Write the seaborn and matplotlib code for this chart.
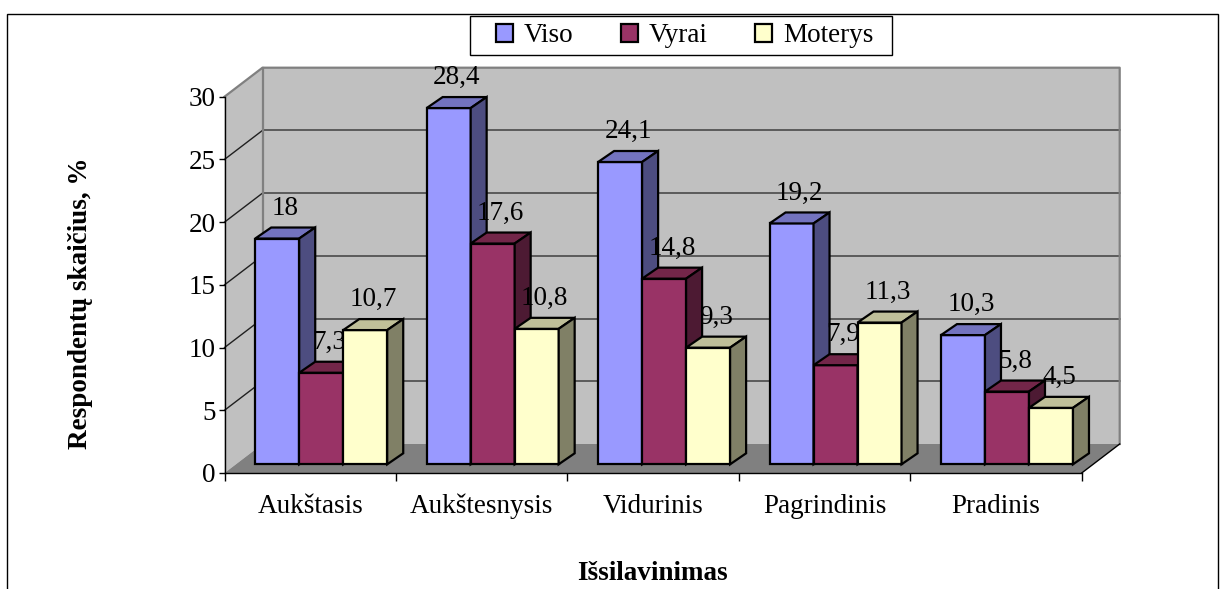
import matplotlib
matplotlib.use("Agg")
import matplotlib.pyplot as plt
import matplotlib.transforms as mtrans
from matplotlib.patches import Patch, Polygon, Rectangle
import pandas as pd
import seaborn as sns

categories = ["Aukštasis", "Aukštesnysis", "Vidurinis", "Pagrindinis", "Pradinis"]
viso = [18, 28.4, 24.1, 19.2, 10.3]
vyrai = [7.3, 17.6, 14.8, 7.9, 5.8]
moterys = [10.7, 10.8, 9.3, 11.3, 4.5]
viso_lbl = ["18", "28,4", "24,1", "19,2", "10,3"]
vyrai_lbl = ["7,3", "17,6", "14,8", "7,9", "5,8"]
moterys_lbl = ["10,7", "10,8", "9,3", "11,3", "4,5"]
series_names = ["Viso", "Vyrai", "Moterys"]
front_cols = ["#9999FF", "#993366", "#FFFFCC"]
top_cols = ["#7373BF", "#732649", "#BFBF99"]
side_cols = ["#4D4D80", "#4D1A33", "#808066"]

W, H = 1222, 589
plt.rcParams["font.family"] = ["Liberation Serif", "DejaVu Serif"]
FS = 19.5

df = pd.DataFrame({
    "cat": categories * 3,
    "val": viso + vyrai + moterys,
    "series": sum([[n] * 5 for n in series_names], []),
})
labels = [viso_lbl, vyrai_lbl, moterys_lbl]

fig = plt.figure(figsize=(W / 100, H / 100), dpi=100)
L, R, T, B = 224.5, 1081.7, 96.7, 473.0
ax = fig.add_axes([L / W, 1 - B / H, (R - L) / W, (B - T) / H])
sns.barplot(data=df, x="cat", y="val", hue="series", palette=front_cols,
            hue_order=series_names, order=categories, width=0.77, gap=0,
            saturation=1, edgecolor="black", linewidth=1.6, legend=False,
            err_kws={"linewidth": 0}, ax=ax)
ax.set_xlim(-0.5, 4.5)
ax.set_ylim(0, 30)
ax.patch.set_visible(False)

pxx = (R - L) / 5          # pixels per category
pxy = (B - T) / 30         # pixels per value unit
wall_dx, wall_dy = 38 / pxx, 29 / pxy
bar_dx, bar_dy = 16 / pxx, 11 / pxy
tr = mtrans.offset_copy(ax.transData, fig=fig, x=11, y=8.7, units="dots")

# walls and floor
x0, x1 = -0.5, 4.5
ax.add_patch(Polygon([(x0 + wall_dx, wall_dy), (x1 + wall_dx, wall_dy),
                      (x1 + wall_dx, 30 + wall_dy), (x0 + wall_dx, 30 + wall_dy)],
                     fc="#C0C0C0", ec="none", zorder=0.5, clip_on=False))
ax.add_patch(Polygon([(x0, 0), (x0 + wall_dx, wall_dy),
                      (x0 + wall_dx, 30 + wall_dy), (x0, 30)],
                     fc="#C0C0C0", ec="none", zorder=0.5, clip_on=False))
ax.add_patch(Polygon([(x0, 0), (x1, 0), (x1 + wall_dx, wall_dy), (x0 + wall_dx, wall_dy)],
                     fc="#808080", ec="none", zorder=0.6, clip_on=False))
for v in [5, 10, 15, 20, 25]:
    ax.plot([x0, x0 + wall_dx], [v, v + wall_dy], color="#202020", lw=1, zorder=1, clip_on=False)
    ax.plot([x0 + wall_dx, x1 + wall_dx], [v + wall_dy] * 2, color="#404040", lw=1.1, zorder=1, clip_on=False)
ax.plot([x0, x0 + wall_dx, x1 + wall_dx, x1 + wall_dx],
        [30, 30 + wall_dy, 30 + wall_dy, wall_dy], color="#808080", lw=1.6, zorder=1.2, clip_on=False)
ax.plot([x0 + wall_dx, x0 + wall_dx], [wall_dy, 30 + wall_dy], color="#808080", lw=1.6, zorder=1.2, clip_on=False)
ax.plot([x1, x1 + wall_dx], [0, wall_dy], color="black", lw=1, zorder=1.3, clip_on=False)

# bars with depth
for s, cont in enumerate(ax.containers):
    z = 3 + 2 * s
    for i, p in enumerate(cont.patches):
        xa, w, h = p.get_x(), p.get_width(), p.get_height()
        xb = xa + w
        p.set_transform(tr)
        p.set_zorder(z)
        p.set_clip_on(False)
        p.set_joinstyle("miter")
        ax.add_patch(Polygon([(xa, h), (xb, h), (xb + bar_dx, h + bar_dy), (xa + bar_dx, h + bar_dy)],
                             fc=top_cols[s], ec="black", lw=1.6, transform=tr, zorder=z, clip_on=False))
        ax.add_patch(Polygon([(xb, 0), (xb + bar_dx, bar_dy), (xb + bar_dx, h + bar_dy), (xb, h)],
                             fc=side_cols[s], ec="black", lw=1.6, transform=tr, zorder=z, clip_on=False))
        ax.annotate(labels[s][i], xy=(xa + w / 2 + bar_dx / 2, h + bar_dy), xycoords=tr,
                    xytext=(0, 5), textcoords="offset points", ha="center", va="bottom",
                    fontsize=FS, color="black", zorder=z + 1, annotation_clip=False)

# axes
for sp in ["top", "right"]:
    ax.spines[sp].set_visible(False)
for sp in ["left", "bottom"]:
    ax.spines[sp].set_linewidth(1)
    ax.spines[sp].set_zorder(2)
ax.set_yticks([0, 5, 10, 15, 20, 25, 30])
ax.tick_params(axis="y", length=4.5, width=1, pad=2, labelsize=FS)
ax.set_xticks([-0.5, 0.5, 1.5, 2.5, 3.5, 4.5], [""] * 6)
ax.tick_params(axis="x", which="major", length=5.5, width=1)
ax.set_xticks(range(5), categories, minor=True)
ax.tick_params(axis="x", which="minor", length=0, pad=15, labelsize=FS)
ax.set_xlabel("")
ax.set_ylabel("")

fig.text(81 / W, 1 - 303 / H, "Respondentų skaičius, %", rotation=90, ha="center", va="center",
         fontsize=FS, fontweight="bold")
fig.text(652 / W, 1 - 573 / H, "Išsilavinimas", ha="center", va="center",
         fontsize=FS, fontweight="bold")

# outer frame and legend frame
fig.add_artist(Rectangle((6.5 / W, -0.05), (1217.5 - 6.5) / W, 1.05 - 13.5 / H, transform=fig.transFigure,
                         fc="none", ec="black", lw=1, zorder=-1))
fig.add_artist(Rectangle((469.5 / W, 1 - 55 / H), (891.5 - 469.5) / W, 39 / H, transform=fig.transFigure,
                         fc="white", ec="black", lw=1, zorder=0))
handles = [Patch(fc=c, ec="black", lw=1.6, label=n) for c, n in zip(front_cols, series_names)]
leg = fig.legend(handles=handles, loc="center", bbox_to_anchor=(684.5 / W, 1 - 36 / H), ncols=3, frameon=False,
                 fontsize=FS, handlelength=0.63, handleheight=0.63, handletextpad=0.4,
                 columnspacing=1.75, borderpad=0)
fig.savefig("out.png", dpi=100)
